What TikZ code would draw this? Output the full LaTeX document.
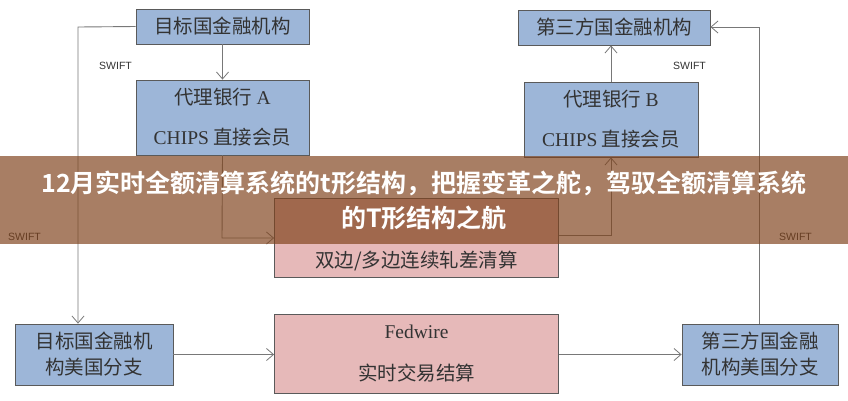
\documentclass[tikz,border=0pt]{standalone}
\usepackage{fontspec}
\setmainfont{Liberation Serif}
\newfontfamily\cjk{Noto Sans CJK SC}[BoldFont={Noto Sans CJK SC Bold}]
\newfontfamily\swiftfont{Liberation Sans}
\newcommand\lat[1]{{\rmfamily #1}}
\usetikzlibrary{arrows.meta}
\definecolor{bluebox}{RGB}{157,182,216}
\definecolor{pinkbox}{RGB}{230,185,185}
\definecolor{edge}{RGB}{90,90,90}
\definecolor{wire}{RGB}{120,120,120}
\definecolor{banner}{RGB}{127,66,27}
\tikzset{
  bbox/.style={draw=edge, line width=0.8pt, fill=bluebox, inner sep=0pt, align=center, font=\cjk\fontsize{19.5}{40}\selectfont, text=black!80},
  pbox/.style={draw=edge, line width=0.8pt, fill=pinkbox, inner sep=0pt, align=center, font=\cjk\fontsize{19.5}{42}\selectfont, text=black!80},
  wireline/.style={draw=wire, line width=0.9pt, -{Straight Barb[length=7pt,width=12pt,line width=0.8pt]}},
  swiftlbl/.style={font=\swiftfont\fontsize{10.5}{12}\selectfont, text=black!80, inner sep=0pt}
}
\begin{document}
\begin{tikzpicture}[x=1pt,y=-1pt]
\useasboundingbox (0,0) rectangle (848,400);
\fill[white] (0,0) rectangle (848,400);
% boxes
\node[bbox, minimum width=173pt, minimum height=35pt] (tgt) at (222.5,26.5) {目标国金融机构};
\node[bbox, minimum width=173pt, minimum height=75pt] (banka) at (222.5,117.5) {代理银行 \lat{A}\\\lat{CHIPS} 直接会员};
\node[bbox, minimum width=192pt, minimum height=35pt] (third) at (614,27.5) {第三方国金融机构};
\node[bbox, minimum width=174pt, minimum height=75pt] (bankb) at (611,119.5) {代理银行 \lat{B}\\\lat{CHIPS} 直接会员};
\node[pbox, minimum width=284pt, minimum height=79pt] (net) at (416.5,237.5) {};
\node[pbox, anchor=center, draw=none, fill=none, minimum width=0pt, minimum height=0pt] (nettext) at (416.5,261) {双边/多边连续轧差清算};
\node[pbox, minimum width=284pt, minimum height=79pt] (fed) at (416.5,353.5) {\lat{Fedwire}\\实时交易结算};
\node[bbox, minimum width=158pt, minimum height=61pt, font=\cjk\fontsize{19.5}{26}\selectfont] (tgtus) at (94,354.5) {目标国金融机\\构美国分支};
\node[bbox, minimum width=156pt, minimum height=61pt, font=\cjk\fontsize{19.5}{26}\selectfont] (thirdus) at (760,354.5) {第三方国金融\\机构美国分支};
% connectors
\coordinate (l1) at (78,27);
\draw[wireline] (tgt.west) -- (l1) -- (l1 |- tgtus.north);
\draw[wireline] (tgt.south) -- (banka.north);
\coordinate (l2) at (222,238);
\draw[wireline] (banka.south) -- (l2) -- (net.west |- l2);
\coordinate (l3) at (611,235);
\draw[wireline] (net.east |- l3) -- (l3) -- (bankb.south);
\draw[wireline] (bankb.north) -- (third.south -| bankb.north);
\coordinate (r1) at (759,27);
\draw[wireline] (thirdus.north -| r1) -- (r1) -- (third.east |- r1);
\draw[wireline] (tgtus.east) -- (fed.west |- tgtus.east);
\draw[wireline] (fed.east |- thirdus.west) -- (thirdus.west);
% labels
\node[swiftlbl, anchor=west] (sw1) at (99,66) {SWIFT};
\node[swiftlbl, anchor=west] (sw2) at (673,66) {SWIFT};
\node[swiftlbl, anchor=west] (sw3) at (8,237) {SWIFT};
\node[swiftlbl, anchor=west] (sw4) at (779,237) {SWIFT};
% banner
\fill[banner, fill opacity=0.68] (0,156) rectangle (848,244);
\node[font=\cjk\bfseries\fontsize{25}{35}\selectfont, text=white, align=center] (title) at (424,200) {12月实时全额清算系统的t形结构，把握变革之舵，驾驭全额清算系统\\的T形结构之航};
\end{tikzpicture}
\end{document}
